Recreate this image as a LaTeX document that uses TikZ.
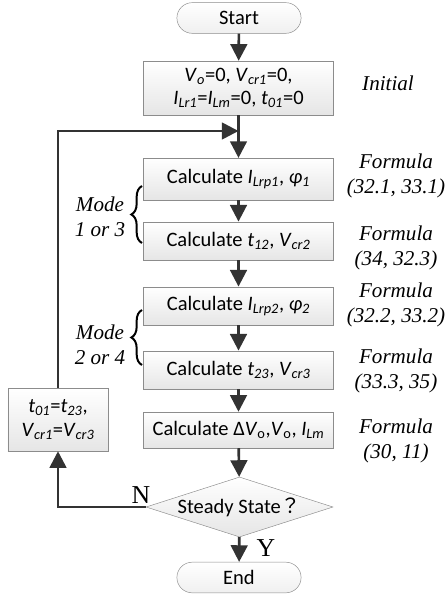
\documentclass[tikz,border=0pt]{standalone}
\usepackage{fontspec}
\setmainfont{Carlito}
\newfontfamily\timesfont{Liberation Serif}
\newfontfamily\cjk{Noto Sans CJK TC}
\usetikzlibrary{arrows.meta, positioning, shapes.geometric, shapes.misc, decorations.pathreplacing}
\definecolor{arrowgray}{HTML}{333333}
\definecolor{edgegray}{HTML}{8C8C8C}
\newcommand{\itsub}[2]{\textit{#1}\textsubscript{\textit{#2}}}

\begin{document}
\begin{tikzpicture}[
  x=0.03cm, y=-0.03cm,
  box/.style={draw=edgegray, top color=white, bottom color=gray!20, minimum width=5.7cm,
              minimum height=1.15cm, align=center, inner sep=1pt,
              font=\fontsize{17.5}{20}\selectfont},
  term/.style={draw=edgegray, rounded rectangle, top color=white, bottom color=gray!12,
               minimum width=3.96cm, minimum height=0.92cm, font=\fontsize{17.5}{20}\selectfont},
  decision/.style={draw=edgegray, diamond, aspect=3.1, top color=white, bottom color=gray!20,
                   inner sep=0pt, minimum width=5.61cm, minimum height=1.8cm,
                   font=\fontsize{17.5}{20}\selectfont},
  note/.style={font=\timesfont\itshape\fontsize{18}{21}\selectfont, align=center},
  yn/.style={font=\timesfont\fontsize{22}{24}\selectfont},
  flow/.style={-{Triangle[length=0.5cm, width=0.5cm]}, line width=2.3pt, draw=arrowgray},
  curly/.style={decorate, decoration={brace, amplitude=0.32cm}, line width=1.7pt}
]
  \useasboundingbox (0,0) rectangle (445,597);

  % main column
  \node[term] (start) at (239,18) {Start};
  \node[box, minimum height=1.62cm] (init) at (238.5,88)
    {\itsub{V}{o}=0, \itsub{V}{cr1}=0,\\ \itsub{I}{Lr1}=\itsub{I}{Lm}=0, \itsub{t}{01}=0};
  \node[box, minimum height=1.25cm] (calc1) at (238.5,179) {Calculate \itsub{I}{Lrp1}, \itsub{φ}{1}};
  \node[box] (calc2) at (238.5,241) {Calculate \itsub{t}{12}, \itsub{V}{cr2}};
  \node[box] (calc3) at (238.5,306) {Calculate \itsub{I}{Lrp2}, \itsub{φ}{2}};
  \node[box] (calc4) at (238.5,370) {Calculate \itsub{t}{23}, \itsub{V}{cr3}};
  \node[box, minimum height=1.08cm] (calc5) at (238.5,430)
    {Calculate Δ\textit{V}\textsubscript{o},\textit{V}\textsubscript{o}, \itsub{I}{Lm}};
  \node[decision] (steady) at (239.5,507) {Steady State{\cjk ？}};
  \node[term] (stop) at (239,577.5) {End};
  \node[box, minimum width=3cm, minimum height=1.89cm] (update) at (58,419.5)
    {\itsub{t}{01}=\itsub{t}{23},\\ \itsub{V}{cr1}=\itsub{V}{cr3}};

  % side notes
  \node[note] (initnote) at (388,83) {Initial};
  \node[note] (f1) at (396,176) {Formula\\(32.1, 33.1)};
  \node[note] (f2) at (396,248) {Formula\\(34, 32.3)};
  \node[note] (f3) at (396,305) {Formula\\(32.2, 33.2)};
  \node[note] (f4) at (396,371) {Formula\\(33.3, 35)};
  \node[note] (f5) at (396,441) {Formula\\(30, 11)};
  \node[note] (mode1) at (100,217) {Mode\\1 or 3};
  \node[note] (mode2) at (100,345) {Mode\\2 or 4};
  \draw[curly] (142,243) -- (142,186);
  \draw[curly] (142,365) -- (142,310);

  % connectors
  \coordinate (join) at (238.5,131);
  \draw[flow] (start) -- (init);
  \draw[flow] (init) -- (calc1);
  \draw[flow] (calc1) -- (calc2);
  \draw[flow] (calc2) -- (calc3);
  \draw[flow] (calc3) -- (calc4);
  \draw[flow] (calc4) -- (calc5);
  \draw[flow] (calc5) -- (steady);
  \draw[flow] (steady) -- (stop);
  \draw[flow] (steady.west) -| (update.south);
  \draw[flow] (update.north) |- (join);
  \node[yn] (no) at (141,495) {N};
  \node[yn] (yes) at (266,548) {Y};
\end{tikzpicture}
\end{document}
